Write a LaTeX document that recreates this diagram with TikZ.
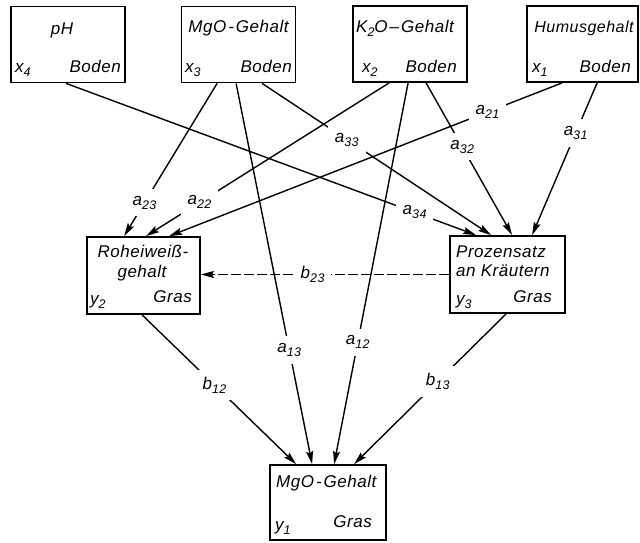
\documentclass[tikz,border=0pt]{standalone}
\usepackage{fontspec}
\setmainfont{Liberation Sans}[LetterSpace=3]
\usetikzlibrary{arrows.meta,calc}
\newcommand\mysub[1]{\raisebox{-0.45ex}{\fontsize{12.5}{13}\selectfont #1}}
\begin{document}
\begin{tikzpicture}[x=1pt,y=-1pt,
  every node/.style={font=\fontsize{17}{19}\selectfont\itshape},
  box/.style={draw,line width=1.8pt,minimum width=114pt,minimum height=76pt,inner sep=0pt},
  txt/.style={inner sep=0pt,anchor=mid},
  txtl/.style={inner sep=0pt,anchor=mid west},
  txtr/.style={inner sep=0pt,anchor=mid east},
  lbl/.style={fill=white,inner sep=7pt},
  edge/.style={line width=1.4pt,-{Stealth[length=13pt,width=7pt,inset=2pt]}},
]
\useasboundingbox (0,0) rectangle (640,542);
% boxes
\node[box] (x4) at (68,44.5) {};
\node[box] (x3) at (238.5,44.5) {};
\node[box] (x2) at (410,44) {};
\node[box,minimum width=111pt] (x1) at (582.5,44) {};
\node[box,minimum width=113pt,minimum height=77pt] (y2) at (143.5,275.5) {};
\node[box,minimum width=115pt,minimum height=77pt] (y3) at (507.5,274.5) {};
\node[box,minimum width=116pt,minimum height=75pt] (y1) at (328,502.5) {};
% texts
\node[txt] (x4a) at (62,32) {pH};
\node[txtl] (x4b) at (15,70) {x\mysub{4}};
\node[txtr] (x4c) at (121,70) {Boden};
\node[txt] (x3a) at (238.5,30) {MgO\kern2pt-\kern2pt Gehalt};
\node[txtl] (x3b) at (185,70) {x\mysub{3}};
\node[txtr] (x3c) at (292,70) {Boden};
\node[txt] (x2a) at (405,30) {K\mysub{2}O\kern2pt--\kern2pt Gehalt};
\node[txtl] (x2b) at (362,70) {x\mysub{2}};
\node[txtr] (x2c) at (457,70) {Boden};
\node[txt,font=\fontsize{16}{18}\selectfont\itshape] (x1a) at (584,30) {Humusgehalt};
\node[txtl] (x1b) at (532,70) {x\mysub{1}};
\node[txtr] (x1c) at (631,70) {Boden};
\node[txt] (y2a) at (143,255) {Roheiweiß-};
\node[txt] (y2b) at (142,275) {gehalt};
\node[txtl] (y2c) at (90,302) {y\mysub{2}};
\node[txtr] (y2d) at (192,300) {Gras};
\node[txtl] (y3a) at (456,255) {Prozensatz};
\node[txtl] (y3b) at (456,274) {an Kräutern};
\node[txtl] (y3c) at (456,302) {y\mysub{3}};
\node[txtr] (y3d) at (552,300) {Gras};
\node[txtl] (y1a) at (276,485) {MgO\kern2pt-\kern2pt Gehalt};
\node[txtl] (y1b) at (275,528) {y\mysub{1}};
\node[txtr] (y1c) at (372,525) {Gras};
% edges
\draw[edge] ([xshift=56pt]x4.south west) -- node[lbl,pos=.85]{a\mysub{34}} ([xshift=27pt]y3.north west);
\draw[edge] ([xshift=36.5pt]x3.south west) -- node[lbl,pos=.78]{a\mysub{23}} ([xshift=38pt]y2.north west);
\draw[edge] ([xshift=55.5pt]x3.south west) -- node[lbl,pos=.70]{a\mysub{13}} ([xshift=43pt]y1.north west);
\draw[edge] ([xshift=81.5pt]x3.south west) -- node[lbl,pos=.37]{a\mysub{33}} ([xshift=42pt]y3.north west);
\draw[edge] ([xshift=37pt]x2.south west) -- node[lbl,pos=.78]{a\mysub{22}} ([xshift=60pt]y2.north west);
\draw[edge] ([xshift=56pt]x2.south west) -- node[lbl,pos=.68]{a\mysub{12}} ([xshift=65pt]y1.north west);
\draw[edge] ([xshift=74pt]x2.south west) -- node[lbl,pos=.42]{a\mysub{32}} ([xshift=63pt]y3.north west);
\draw[edge] ([xshift=36pt]x1.south west) -- node[lbl,pos=.19]{a\mysub{21}} ([xshift=83pt]y2.north west);
\draw[edge] ([xshift=71pt]x1.south west) -- node[lbl,pos=.33]{a\mysub{31}} ([xshift=83pt]y3.north west);
\draw[edge,dash pattern=on 10pt off 3pt] (y3.west) -- node[lbl,pos=.55]{b\mysub{23}} (y3.west -| y2.east);
\draw[edge] ([xshift=56pt]y2.south west) -- node[lbl,pos=.47]{b\mysub{12}} ([xshift=27pt]y1.north west);
\draw[edge] ([xshift=57pt]y3.south west) -- node[lbl,pos=.45]{b\mysub{13}} ([xshift=85pt]y1.north west);
\end{tikzpicture}
\end{document}
